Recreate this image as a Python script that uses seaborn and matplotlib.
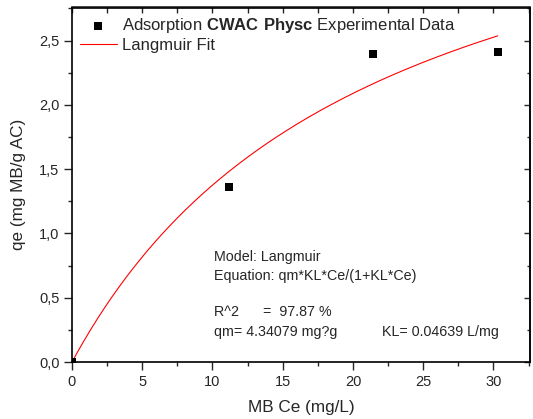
import numpy as np
import pandas as pd
import matplotlib
matplotlib.use("Agg")
import matplotlib.pyplot as plt
from matplotlib.ticker import MultipleLocator, FuncFormatter
import seaborn as sns

# ---- data ----
ce_exp = [0.0, 11.2, 21.45, 30.3]
qe_exp = [0.0, 1.364, 2.392, 2.414]
qm = 4.34079
kl = 0.04639
fit_ce_end = 30.3
x_ticks = [0, 5, 10, 15, 20, 25, 30]
y_ticks = [0.0, 0.5, 1.0, 1.5, 2.0, 2.5]

sns.set_style("ticks")
plt.rcParams["font.family"] = ["Liberation Sans", "DejaVu Sans"]
plt.rcParams["mathtext.fontset"] = "custom"
plt.rcParams["mathtext.rm"] = "Liberation Sans"
plt.rcParams["mathtext.bf"] = "Liberation Sans:bold"

W, H = 533, 419
fig = plt.figure(figsize=(W / 100, H / 100), dpi=100)
L, R, T, B = 72, 530, 7.5, 362
ax = fig.add_axes([L / W, 1 - B / H, (R - L) / W, (B - T) / H])

df_exp = pd.DataFrame({"Ce": ce_exp, "qe": qe_exp})
ce_fit = np.linspace(0, fit_ce_end, 300)
qe_fit = qm * kl * ce_fit / (1 + kl * ce_fit)
df_fit = pd.DataFrame({"Ce": ce_fit, "qe": qe_fit})

sns.lineplot(data=df_fit, x="Ce", y="qe", ax=ax, color="#ff0000", lw=0.8,
             label="Langmuir Fit", zorder=2)
sns.scatterplot(data=df_exp, x="Ce", y="qe", ax=ax, marker="s", color="black",
                s=38, linewidth=0, zorder=3,
                label=r"Adsorption $\mathbf{CWAC\ Physc}$ Experimental Data")

ax.set_xlim(0, 32.6)
ax.set_ylim(0, 2.757)
ax.set_xticks(x_ticks)
ax.set_yticks(y_ticks)
ax.xaxis.set_minor_locator(MultipleLocator(2.5))
ax.yaxis.set_minor_locator(MultipleLocator(0.25))
ax.yaxis.set_major_formatter(FuncFormatter(lambda v, p: f"{v:.1f}".replace(".", ",")))
ax.tick_params(which="major", direction="out", length=6, width=1, labelsize=10.5, pad=3)
ax.tick_params(which="minor", direction="out", length=3, width=1)
for s in ax.spines.values():
    s.set_linewidth(1.2)
    s.set_color("black")

top = ax.secondary_xaxis("top")
top.set_xticks(x_ticks)
top.xaxis.set_minor_locator(MultipleLocator(2.5))
top.tick_params(which="both", direction="in", length=4, width=1, labeltop=False)
top.spines["top"].set_linewidth(1.2)
right = ax.secondary_yaxis("right")
right.set_yticks(y_ticks)
right.yaxis.set_minor_locator(MultipleLocator(0.25))
right.tick_params(which="major", direction="in", length=4, width=1, labelright=False)
right.tick_params(which="minor", direction="in", length=2, width=1)
right.spines["right"].set_linewidth(1.2)

ax.set_xlabel("MB Ce (mg/L)", fontsize=12.3, labelpad=8)
ax.set_ylabel("qe (mg MB/g AC)", fontsize=12.3, labelpad=9)

h, lab = ax.get_legend_handles_labels()
ax.legend([h[1], h[0]], [lab[1], lab[0]], loc="upper left", frameon=False,
          fontsize=12, bbox_to_anchor=(0.0175, 0.976), borderpad=0,
          borderaxespad=0, handlelength=2.2, handletextpad=0.3,
          labelspacing=0.15)

def ftxt(x, y, s):
    fig.text(x / W, 1 - y / H, s, fontsize=10.3, va="center", ha="left")

ftxt(214, 257, "Model: Langmuir")
ftxt(214, 276, "Equation: qm*KL*Ce/(1+KL*Ce)")
ftxt(214, 312, "R^2      =  97.87 %")
ftxt(214, 332, "qm= 4.34079 mg?g")
ftxt(382, 332, "KL= 0.04639 L/mg")

fig.savefig("out.png", dpi=100)
